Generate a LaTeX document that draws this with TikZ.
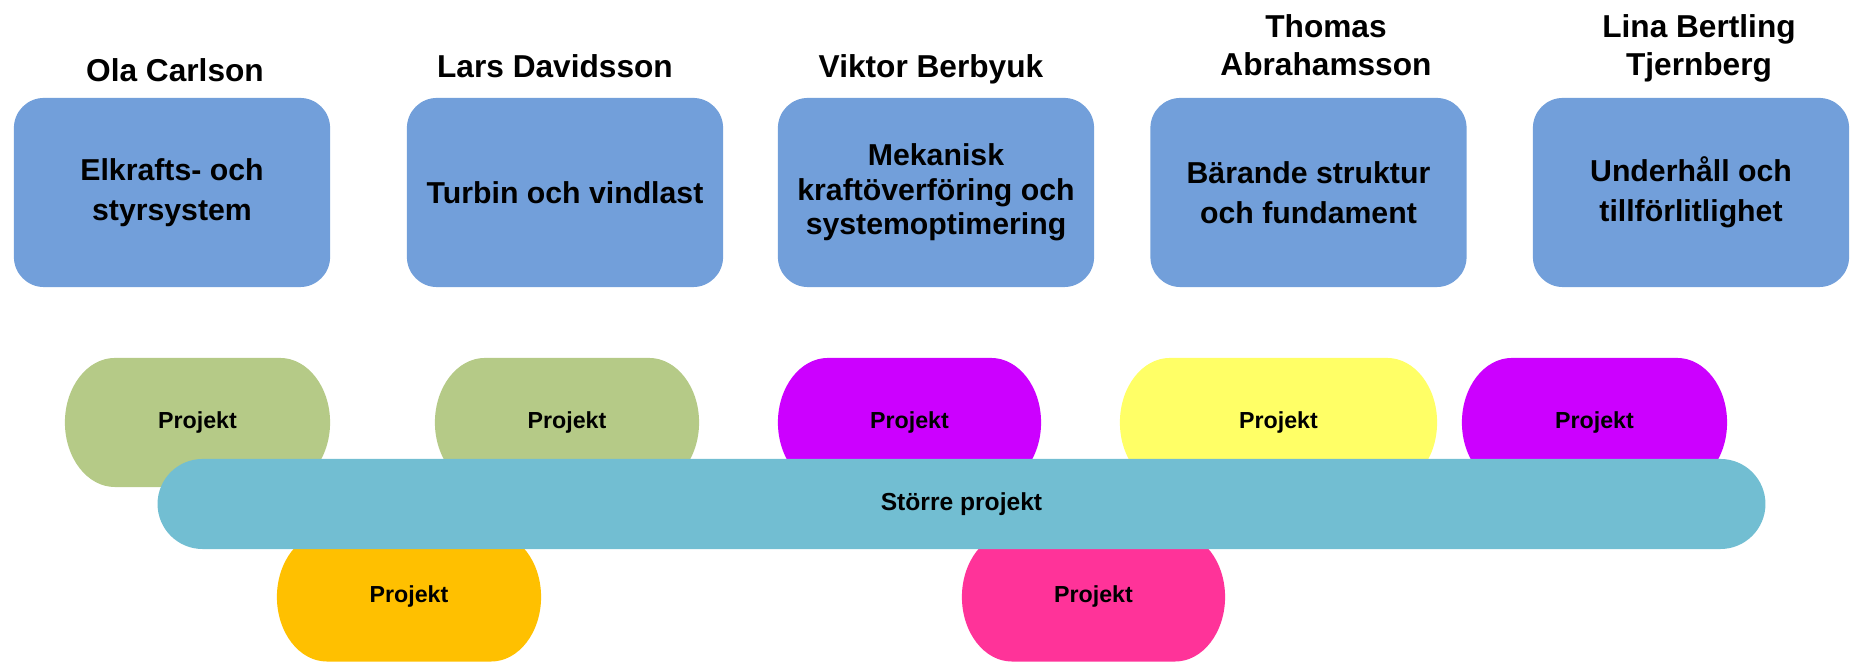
\documentclass[tikz,border=0pt]{standalone}
\usepackage{fontspec}
\setmainfont{Liberation Sans}
\usetikzlibrary{positioning,calc,backgrounds}

\definecolor{areablue}{HTML}{729FDA}
\definecolor{projgreen}{HTML}{B5CA87}
\definecolor{projviolet}{HTML}{CC00FF}
\definecolor{projyellow}{HTML}{FFFF66}
\definecolor{projorange}{HTML}{FFC000}
\definecolor{projpink}{HTML}{FF3399}
\definecolor{barblue}{HTML}{72BED2}

\tikzset{
  area/.style={fill=areablue,rounded corners=0.3cm,minimum width=3.16cm,minimum height=1.89cm,
    inner sep=0pt,align=center,font=\bfseries\fontsize{8.6}{11.4}\selectfont},
  leader/.style={align=center,font=\bfseries\fontsize{9}{10.8}\selectfont},
  projekt/.style={minimum height=1.29cm,inner sep=0pt,outer sep=0pt,font=\bfseries\fontsize{6.6}{8}\selectfont},
  storre/.style={fill=barblue,rounded corners=0.45cm,minimum width=16.07cm,minimum height=0.9cm,
    inner sep=0pt,font=\bfseries\fontsize{7}{8}\selectfont}
}

% flat top and bottom, elliptic ends, filled behind the node
\newcommand{\blobfill}[2]{%
  \fill[#2] ([xshift=0.5cm]#1.north west) -- ([xshift=-0.5cm]#1.north east)
    arc[start angle=90,end angle=-90,x radius=0.5cm,y radius=0.645cm]
    -- ([xshift=0.5cm]#1.south west)
    arc[start angle=270,end angle=90,x radius=0.5cm,y radius=0.645cm] -- cycle;}

\begin{document}
\begin{tikzpicture}[x=0.01cm,y=-0.01cm]
    \useasboundingbox (0,0) rectangle (1850,662);
    % research areas
    \node[area] (el) at (172,192.5) {Elkrafts- och\\styrsystem};
    \node[area] (tu) at (565,192.5) {Turbin och vindlast};
    \node[area,font=\bfseries\fontsize{8.6}{9.8}\selectfont] (me) at (936,192.5) {Mekanisk\\kraftöverföring och\\systemoptimering};
    \node[area] (ba) at (1308.5,192.5) {Bärande struktur\\och fundament};
    \node[area] (un) at (1691,192.5) {Underhåll och\\tillförlitlighet};
    % leaders
    \node[leader,anchor=base] (ola) at (175,81.5) {Ola Carlson};
    \node[leader,anchor=base] (lars) at (555,78) {Lars Davidsson};
    \node[leader,anchor=base] (viktor) at (931,78) {Viktor Berbyuk};
    \node[leader] (thomas) at (1326,45) {Thomas\\Abrahamsson};
    \node[leader] (lina) at (1699,48) {Lina Bertling\\Tjernberg};
    % projects
    \node[projekt,minimum width=2.65cm] (p1) at (197.5,422.5) {Projekt};
    \node[projekt,minimum width=2.64cm] (p2) at (567,422.5) {Projekt};
    \node[projekt,minimum width=2.63cm] (p3) at (909.5,422.5) {Projekt};
    \node[projekt,minimum width=3.17cm] (p4) at (1278.5,422.5) {Projekt};
    \node[projekt,minimum width=2.65cm] (p5) at (1594.5,422.5) {Projekt};
    \node[projekt,minimum width=2.64cm] (p6) at (409,597) {Projekt};
    \node[projekt,minimum width=2.63cm] (p7) at (1093.5,597) {Projekt};
    \node[storre] (big) at (961.5,504) {Större projekt};
    \begin{scope}[on background layer]
      \foreach \p/\c in {p1/projgreen,p2/projgreen,p3/projviolet,p4/projyellow,
                         p5/projviolet,p6/projorange,p7/projpink}
        {\blobfill{\p}{\c}}
    \end{scope}
\end{tikzpicture}
\end{document}
